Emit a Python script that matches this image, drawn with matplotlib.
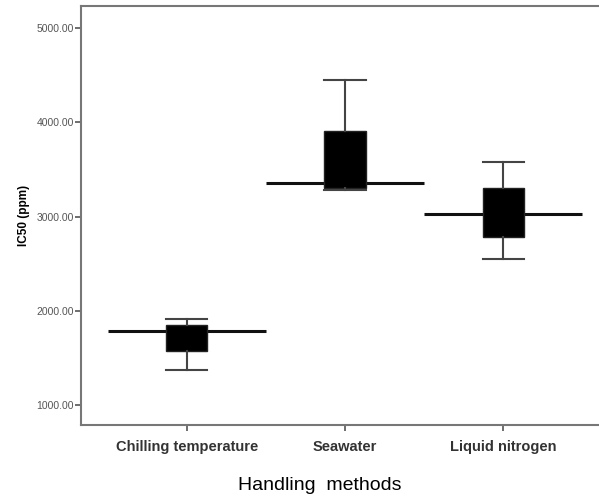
import matplotlib
matplotlib.use("Agg")
import matplotlib.pyplot as plt

categories = ["Chilling temperature", "Seawater", "Liquid nitrogen"]
whisker_low = [1368, 3282, 2550]
q1 = [1576, 3300, 2787]
medians = [1789, 3354, 3028]
q3 = [1849, 3912, 3300]
whisker_high = [1910, 4450, 3583]
yticks = [1000, 2000, 3000, 4000, 5000]

fig = plt.figure(figsize=(5.99, 4.97), dpi=100)
ax = fig.add_axes([81/599, (497-425)/497, (609-81)/599, (425-6)/497])

stats = []
for i, c in enumerate(categories):
    stats.append(dict(label=c, whislo=whisker_low[i], q1=q1[i], med=medians[i],
                      q3=q3[i], whishi=whisker_high[i], fliers=[]))
positions = list(range(1, len(categories) + 1))
ax.bxp(stats, positions=positions, widths=0.26, patch_artist=True, showfliers=False,
       boxprops=dict(facecolor="black", edgecolor="#222222", linewidth=1),
       whiskerprops=dict(color="#444444", linewidth=1.5),
       capprops=dict(color="#444444", linewidth=1.5),
       medianprops=dict(linewidth=0), capwidths=0.26)
for p, m in zip(positions, medians):
    ax.hlines(m, p - 0.5, p + 0.5, color="#111111", linewidth=2.2, zorder=1)

ax.set_xlim(0.33, 3.67)
ax.set_ylim(788, 5236)
ax.set_yticks(yticks)
ax.set_yticklabels([f"{v:.2f}" for v in yticks], fontsize=7.5, color="#555555",
                   family="Liberation Sans")
ax.set_xticks(positions)
ax.set_xticklabels(categories, fontsize=10.5, fontweight="bold", color="#333333",
                   family="Liberation Sans")
for s in ax.spines.values():
    s.set_color("#777777")
    s.set_linewidth(1.5)
ax.tick_params(axis="both", color="#555555", length=4, width=1.2)
ax.tick_params(axis="y", pad=1)
ax.tick_params(axis="x", pad=7)
ax.set_ylabel("IC50 (ppm)", fontsize=8.5, fontweight="bold", family="Liberation Sans",
              labelpad=5)
fig.text(320/599, 1 - 485/497, "Handling  methods", ha="center", va="center",
         fontsize=14, family="Liberation Sans")
fig.savefig("out.png", dpi=100)
